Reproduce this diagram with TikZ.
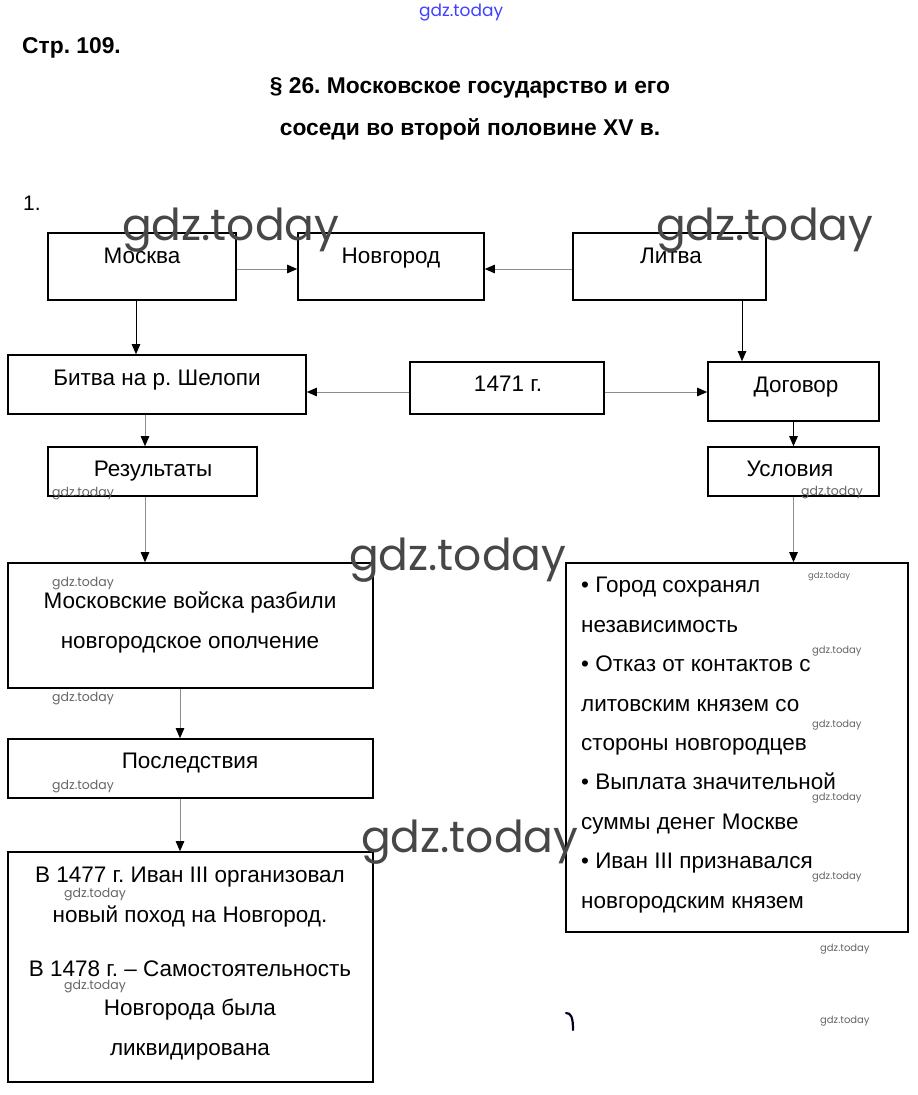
\documentclass[tikz,border=0pt]{standalone}
\usepackage{fontspec}
\setmainfont{Liberation Sans}
\newfontfamily\wmfont{Poppins}
\usetikzlibrary{arrows.meta}
\frenchspacing
\begin{document}
\begin{tikzpicture}[x=1pt,y=-1pt,
  box/.style={draw=black, line width=1.6pt, inner sep=0pt},
  txt/.style={font=\fontsize{22.5}{39.4}\selectfont, inner sep=0pt, anchor=base, align=center},
  ltxt/.style={font=\fontsize{22.5}{39.4}\selectfont, inner sep=0pt, anchor=base west, align=left},
  head/.style={font=\bfseries\fontsize{22.8}{25}\selectfont, inner sep=0pt},
  conn/.style={draw=black!45, line width=0.9pt, -{Triangle[length=10pt,width=8.5pt,color=black]}},
  connd/.style={conn, draw=black},
  wmbig/.style={font=\wmfont\fontsize{44}{44}\selectfont, text=black!72, inner sep=0pt, anchor=base west},
  wms/.style={font=\wmfont\fontsize{12.5}{12.5}\selectfont, text=black!60, inner sep=0pt, anchor=base west},
  wmt/.style={font=\wmfont\fontsize{10}{10}\selectfont, text=black!60, inner sep=0pt, anchor=base west}
]
\useasboundingbox[fill=white] (0,0) rectangle (918,1095);

% headings
\node[head, anchor=base west] (page) at (22,53) {Стр. 109.};
\node[head, anchor=base] (title1) at (470,93) {§ 26. Московское государство и его};
\node[head, anchor=base] (title2) at (470,135) {соседи во второй половине XV в.};
\node[font=\fontsize{21}{25}\selectfont, inner sep=0pt, anchor=base west] (num) at (23,210) {1.};

% boxes
\node[box, minimum width=188pt, minimum height=67pt] (moskva) at (142,266.5) {};
\node[box, minimum width=186pt, minimum height=67pt] (novgorod) at (391,266.5) {};
\node[box, minimum width=193pt, minimum height=67pt] (litva) at (669.5,266.5) {};
\node[box, minimum width=298pt, minimum height=59pt] (bitva) at (157,384.5) {};
\node[box, minimum width=194pt, minimum height=52pt] (y1471) at (507,388) {};
\node[box, minimum width=171pt, minimum height=59pt] (dogovor) at (793.5,391.5) {};
\node[box, minimum width=209pt, minimum height=49pt] (result) at (152.5,471.5) {};
\node[box, minimum width=171pt, minimum height=49pt] (uslov) at (793.5,471.5) {};
\node[box, minimum width=365pt, minimum height=125pt] (razbili) at (190.5,625.5) {};
\node[box, minimum width=365pt, minimum height=59pt] (posled) at (190.5,768.5) {};
\node[box, minimum width=365pt, minimum height=230pt] (itog) at (190.5,967) {};
\node[box, minimum width=342pt, minimum height=369pt] (usl) at (737,747.5) {};

% texts (multi-line nodes: base = baseline of the last line)
\node[txt] (tmoskva) at (142,263) {Москва};
\node[txt] (tnovgorod) at (391,263) {Новгород};
\node[txt] (tlitva) at (671,263) {Литва};
\node[txt] (tbitva) at (157,385) {Битва на р. Шелопи};
\node[txt] (t1471) at (508,391) {1471 г.};
\node[txt] (tdogovor) at (796,392) {Договор};
\node[txt] (tresult) at (153,476) {Результаты};
\node[txt] (tuslov) at (790,476) {Условия};
\node[txt] (trazbili) at (190,648) {Московские войска разбили\\новгородское ополчение};
\node[txt] (tposled) at (190,768) {Последствия};
\node[txt] (titog1) at (190,922) {В 1477 г. Иван III организовал\\новый поход на Новгород.};
\node[txt] (titog2) at (190,1055) {В 1478 г. – Самостоятельность\\Новгорода была\\ликвидирована};
\node[ltxt] (tusl) at (581,908) {• Город сохранял\\независимость\\• Отказ от контактов с\\литовским князем со\\стороны новгородцев\\• Выплата значительной\\суммы денег Москве\\• Иван III признавался\\новгородским князем};

% connectors
\draw[conn] ([yshift=-2.5pt]moskva.east) -- ([yshift=-2.5pt]moskva.east -| novgorod.west);
\draw[conn] ([yshift=-2.5pt]litva.west) -- ([yshift=-2.5pt]litva.west -| novgorod.east);
\draw[connd] ([xshift=-6pt]moskva.south) -- ([xshift=-6pt]moskva.south |- bitva.north);
\draw[connd] ([xshift=72.5pt]litva.south) -- ([xshift=72.5pt]litva.south |- dogovor.north);
\draw[conn] ([yshift=-4pt]y1471.west) -- ([yshift=-4pt]y1471.west -| bitva.east);
\draw[conn] ([yshift=-4pt]y1471.east) -- ([yshift=-4pt]y1471.east -| dogovor.west);
\draw[conn] ([xshift=-12pt]bitva.south) -- ([xshift=-12pt]bitva.south |- result.north);
\draw[connd] (dogovor.south) -- (uslov.north);
\draw[conn] ([xshift=-7.5pt]result.south) -- ([xshift=-7.5pt]result.south |- razbili.north);
\draw[conn] (uslov.south) -- (uslov.south |- usl.north);
\draw[conn] ([xshift=-10.5pt]razbili.south) -- ([xshift=-10.5pt]razbili.south |- posled.north);
\draw[conn] ([xshift=-10.5pt]posled.south) -- ([xshift=-10.5pt]posled.south |- itog.north);

% watermarks
\node[font=\wmfont\fontsize{17}{17}\selectfont, text=blue!75, inner sep=0pt, anchor=base west] (wtop) at (419,16) {gdz.today};
\node[wmbig] (wb1) at (122,240) {gdz.today};
\node[wmbig] (wb2) at (656,240) {gdz.today};
\node[wmbig] (wb3) at (349,570) {gdz.today};
\node[wmbig] (wb4) at (361,852) {gdz.today};
\node[wms] (w1) at (52,496) {gdz.today};
\node[wms] (w2) at (52,586) {gdz.today};
\node[wms] (w3) at (52,701) {gdz.today};
\node[wms] (w4) at (52,789) {gdz.today};
\node[wms] (w5) at (64,897) {gdz.today};
\node[wms] (w6) at (64,989) {gdz.today};
\node[wms] (w7) at (801,495) {gdz.today};
\node[wmt, font=\wmfont\fontsize{8.5}{8.5}\selectfont] (w8) at (808,578) {gdz.today};
\node[wmt] (w9) at (812,653) {gdz.today};
\node[wmt] (w10) at (812,727) {gdz.today};
\node[wmt] (w11) at (812,800) {gdz.today};
\node[wmt] (w12) at (812,879) {gdz.today};
\node[wmt] (w13) at (820,951) {gdz.today};
\node[wmt] (w14) at (820,1023) {gdz.today};

% stray mark
\draw[line width=2.2pt, black!85!blue, line cap=round] (566,1013) .. controls (571,1013) and (573,1017) .. (573,1030);
\end{tikzpicture}
\end{document}
